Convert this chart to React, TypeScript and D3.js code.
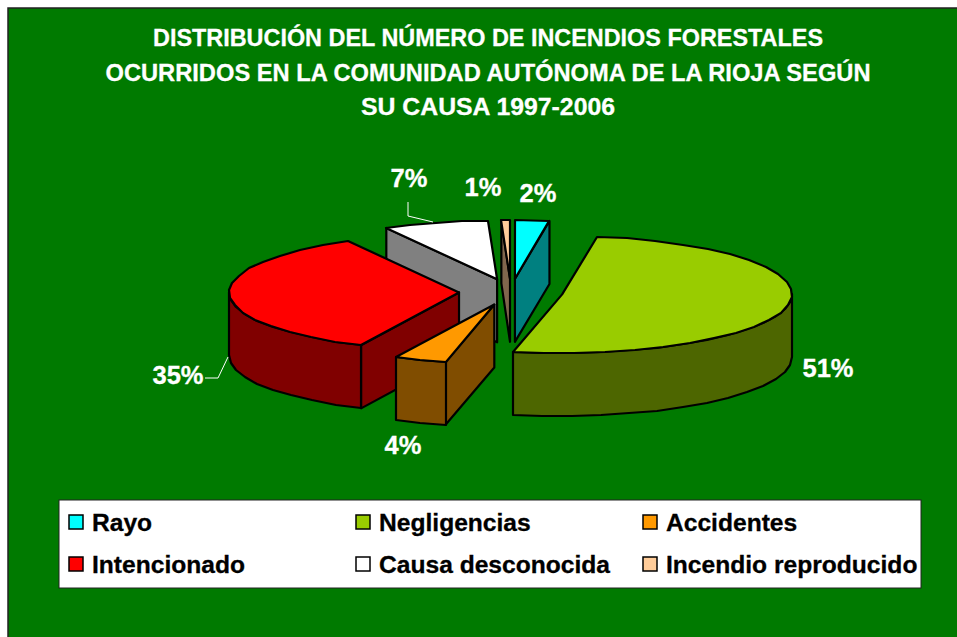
import React from "react";
import * as d3 from "d3";

const titleLines = [
  "DISTRIBUCIÓN DEL NÚMERO DE INCENDIOS FORESTALES",
  "OCURRIDOS EN LA COMUNIDAD AUTÓNOMA DE LA RIOJA SEGÚN",
  "SU CAUSA 1997-2006",
];
const categories = ["Rayo", "Negligencias", "Accidentes", "Intencionado", "Causa desconocida", "Incendio reproducido"];
const values = [2.4, 51.0, 3.6, 35, 7.4, 0.6];
const topColors = ["#00FFFF", "#99CC00", "#FF9900", "#FF0000", "#FFFFFF", "#FFCC99"];
const sideColors = ["#008080", "#4D6600", "#804D00", "#800000", "#808080", "#80664D"];

const W = 957, H = 637;
const CX = 511, CY = 292, RX = 230, RY = 58.5, DEPTH = 63, EXPLODE = 52;
const FONT = "'Liberation Sans', Arial, sans-serif";

const titleWidths = [670, 765, 254];
const labelAnchor = [[538, 202], [828, 377], [403, 454], [178, 384], [409, 187], [483, 196]];

const pie = d3.pie<number>().sort(null).value((d) => d);
const arcs = pie(values);
const line = d3.line<[number, number]>().curve(d3.curveLinear);

type Pt = [number, number];
function sliceGeom(a: { startAngle: number; endAngle: number }) {
  const mid = (a.startAngle + a.endAngle) / 2;
  const cx = CX + EXPLODE * Math.sin(mid);
  const cy = CY - (EXPLODE * RY / RX) * Math.cos(mid);
  const P = (t: number): Pt => [cx + RX * Math.sin(t), cy - RY * Math.cos(t)];
  const arcPts = (s: number, e: number): Pt[] => {
    const n = Math.max(1, Math.round((e - s) / (Math.PI / 24)));
    return d3.range(n + 1).map((i) => {
      const [x, y] = P(s + ((e - s) * i) / n);
      return [Math.round(x), Math.round(y)] as Pt;
    });
  };
  return { cx, cy, P, arcPts };
}
const down = (pts: Pt[]): Pt[] => pts.map(([x, y]) => [x, y + DEPTH] as Pt);

function Slice({ i }: { i: number }) {
  const a = arcs[i];
  const { cx, cy, P, arcPts } = sliceGeom(a);
  const s = a.startAngle, e = a.endAngle;
  const apex: Pt = [cx, cy];
  const top = [apex, ...arcPts(s, e)];
  const faces: Pt[][] = [];
  // radial side faces, kept when their outward normal points at the viewer
  if (Math.cos(s - Math.PI / 2) < -1e-6) {
    const q = P(s);
    faces.push([apex, q, ...down([q]), ...down([apex])]);
  }
  if (Math.cos(e + Math.PI / 2) < -1e-6) {
    const q = P(e);
    faces.push([apex, q, ...down([q]), ...down([apex])]);
  }
  // outer wall on the front half of the ellipse
  const s2 = Math.max(s, Math.PI / 2), e2 = Math.min(e, (3 * Math.PI) / 2);
  if (e2 > s2) {
    const pts = arcPts(s2, e2);
    faces.push([...pts, ...down(pts).reverse()]);
  }
  return (
    <g stroke="#000" strokeWidth={2.2} strokeLinejoin="round">
      {faces.map((f, k) => (
        <path key={k} d={line(f) + "Z"} fill={sideColors[i]} />
      ))}
      <path d={line(top) + "Z"} fill={topColors[i]} />
    </g>
  );
}

const sliceOrder = d3.range(values.length).sort((p, q) => sliceGeom(arcs[p]).cy - sliceGeom(arcs[q]).cy);

const legendCols = [69, 356, 643];
const legendRows = [515, 557];

export default function App() {
  return (
    <svg width={W} height={H} viewBox={`0 0 ${W} ${H}`} style={{ position: "absolute", left: 0, top: 0, display: "block" }} fontFamily={FONT} fontWeight="bold">
      <rect x={0} y={0} width={W} height={H} fill="#fff" />
      <rect x={8} y={8} width={W + 10} height={H + 10} fill="#007A00" stroke="#222" strokeWidth={1.5} />
      {titleLines.map((t, i) => (
        <text key={i} x={488} y={46 + i * 34.5} textAnchor="middle" fill="#fff" fontSize={24} textLength={titleWidths[i]} lengthAdjust="spacingAndGlyphs" stroke="#fff" strokeWidth={0.3}>{t}</text>
      ))}
      {sliceOrder.map((i) => <Slice key={i} i={i} />)}
      <polyline points="408,202 408,216 433,222" fill="none" stroke="#fff" strokeWidth={1} />
      <polyline points="205,378 218,378 228,357" fill="none" stroke="#fff" strokeWidth={1} />
      {values.map((v, i) => (
        <text key={i} x={labelAnchor[i][0]} y={labelAnchor[i][1]} textAnchor="middle" fill="#fff" fontSize={25.5} stroke="#fff" strokeWidth={0.3}>{`${Math.round(v)}%`}</text>
      ))}
      <rect x={59} y={500} width={862} height={88} fill="#fff" stroke="#222" strokeWidth={1} />
      {categories.map((c, i) => {
        const x = legendCols[i % 3], y = legendRows[Math.floor(i / 3)];
        return (
          <g key={c}>
            <rect x={x} y={y} width={14} height={14} fill={topColors[i]} stroke="#000" strokeWidth={1.5} />
            <text x={x + 23} y={y + 16} fill="#000" fontSize={24.6} stroke="#000" strokeWidth={0.3}>{c}</text>
          </g>
        );
      })}
    </svg>
  );
}
